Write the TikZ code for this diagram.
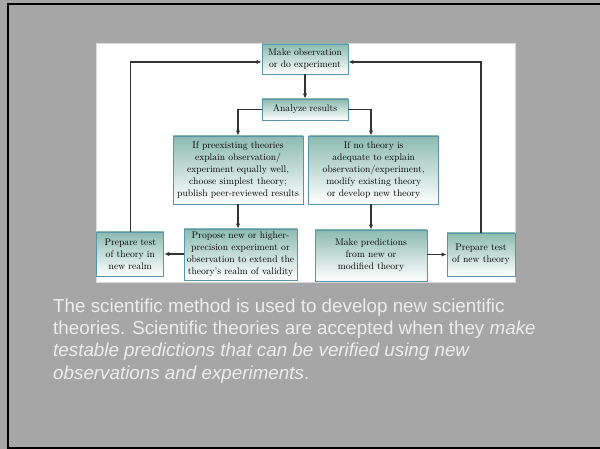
\documentclass[tikz,border=0pt]{standalone}
\usepackage{fontspec}
\newfontfamily\slidefont{Liberation Sans}
\usetikzlibrary{arrows.meta}

\definecolor{slidegray}{HTML}{A6A6A6}
\definecolor{boxblue}{HTML}{5A94AA}
\definecolor{boxteal}{HTML}{8CBBAF}
\definecolor{linegray}{HTML}{333333}
\definecolor{captiongray}{HTML}{EDEDED}

\tikzset{
    stepbox/.style={draw=boxblue, line width=0.9pt, top color=boxteal, bottom color=white,
        align=center, inner sep=1pt, text=black,
        font=\fontsize{9.6}{11.9}\selectfont},
    arr/.style={draw=linegray, line width=1.2pt, -{Latex[length=5pt,width=4.5pt]}},
}

\begin{document}
\begin{tikzpicture}[x=1pt, y=-1pt]
    \useasboundingbox (0,0) rectangle (600,449);
    \fill[slidegray] (0,0) rectangle (600,449);
    \draw[line width=2.5pt] (600,4) -- (8,4) -- (8,448) -- (600,448);
    \draw[fill=white, draw=black!15] (96,43) rectangle (515,282);

    \node[stepbox, minimum width=86pt, minimum height=30pt] (obs) at (305,59) {Make observation\\or do experiment};
    \node[stepbox, minimum width=86pt, minimum height=21pt] (analyze) at (305,109.5) {Analyze results};
    \node[stepbox, minimum width=130pt, minimum height=68pt] (pre) at (238,170) {If preexisting theories\\explain observation/\\experiment equally well,\\choose simplest theory;\\publish peer-reviewed results};
    \node[stepbox, minimum width=130pt, minimum height=68pt] (nothe) at (373.7,170) {If no theory is\\adequate to explain\\observation/experiment,\\modify existing theory\\or develop new theory};
    \node[stepbox, minimum width=113pt, minimum height=51pt] (propose) at (240.5,254.5) {Propose new or higher-\\precision experiment or\\observation to extend the\\theory's realm of validity};
    \node[stepbox, minimum width=112pt, minimum height=51pt] (pred) at (371,255.5) {Make predictions\\from new or\\modified theory};
    \node[stepbox, minimum width=67pt, minimum height=44pt] (testold) at (130.3,254) {Prepare test\\of theory in\\new realm};
    \node[stepbox, minimum width=68pt, minimum height=43pt] (testnew) at (481,254.5) {Prepare test\\of new theory};

    \draw[arr] (obs) -- (analyze);
    \draw[arr] (analyze.west) -| (pre.north);
    \draw[arr] (analyze.east) -| (pred.north |- nothe.north);
    \draw[arr] (pre.south) -- (pre.south |- propose.north);
    \draw[arr] (pred.north |- nothe.south) -- (pred.north);
    \draw[arr] (propose.west |- testold.east) -- (testold.east);
    \draw[arr] (pred.east |- testnew.west) -- (testnew.west);
    \draw[arr] (testold.north) |- ([yshift=-3pt]obs.west);
    \draw[arr] (testnew.north) |- ([yshift=-3pt]obs.east);

    % caption under the chart, placed by its last baseline
    \node[anchor=base west, align=left, text=captiongray, inner sep=0pt,
        font=\slidefont\fontsize{18.8}{22.3}\selectfont] (caption) at (53,379)
        {The scientific method is used to develop new scientific\\
         theories. Scientific theories are accepted when they \textit{make}\\
         \textit{testable predictions that can be verified using new}\\
         \textit{observations and experiments}.};
\end{tikzpicture}
\end{document}
